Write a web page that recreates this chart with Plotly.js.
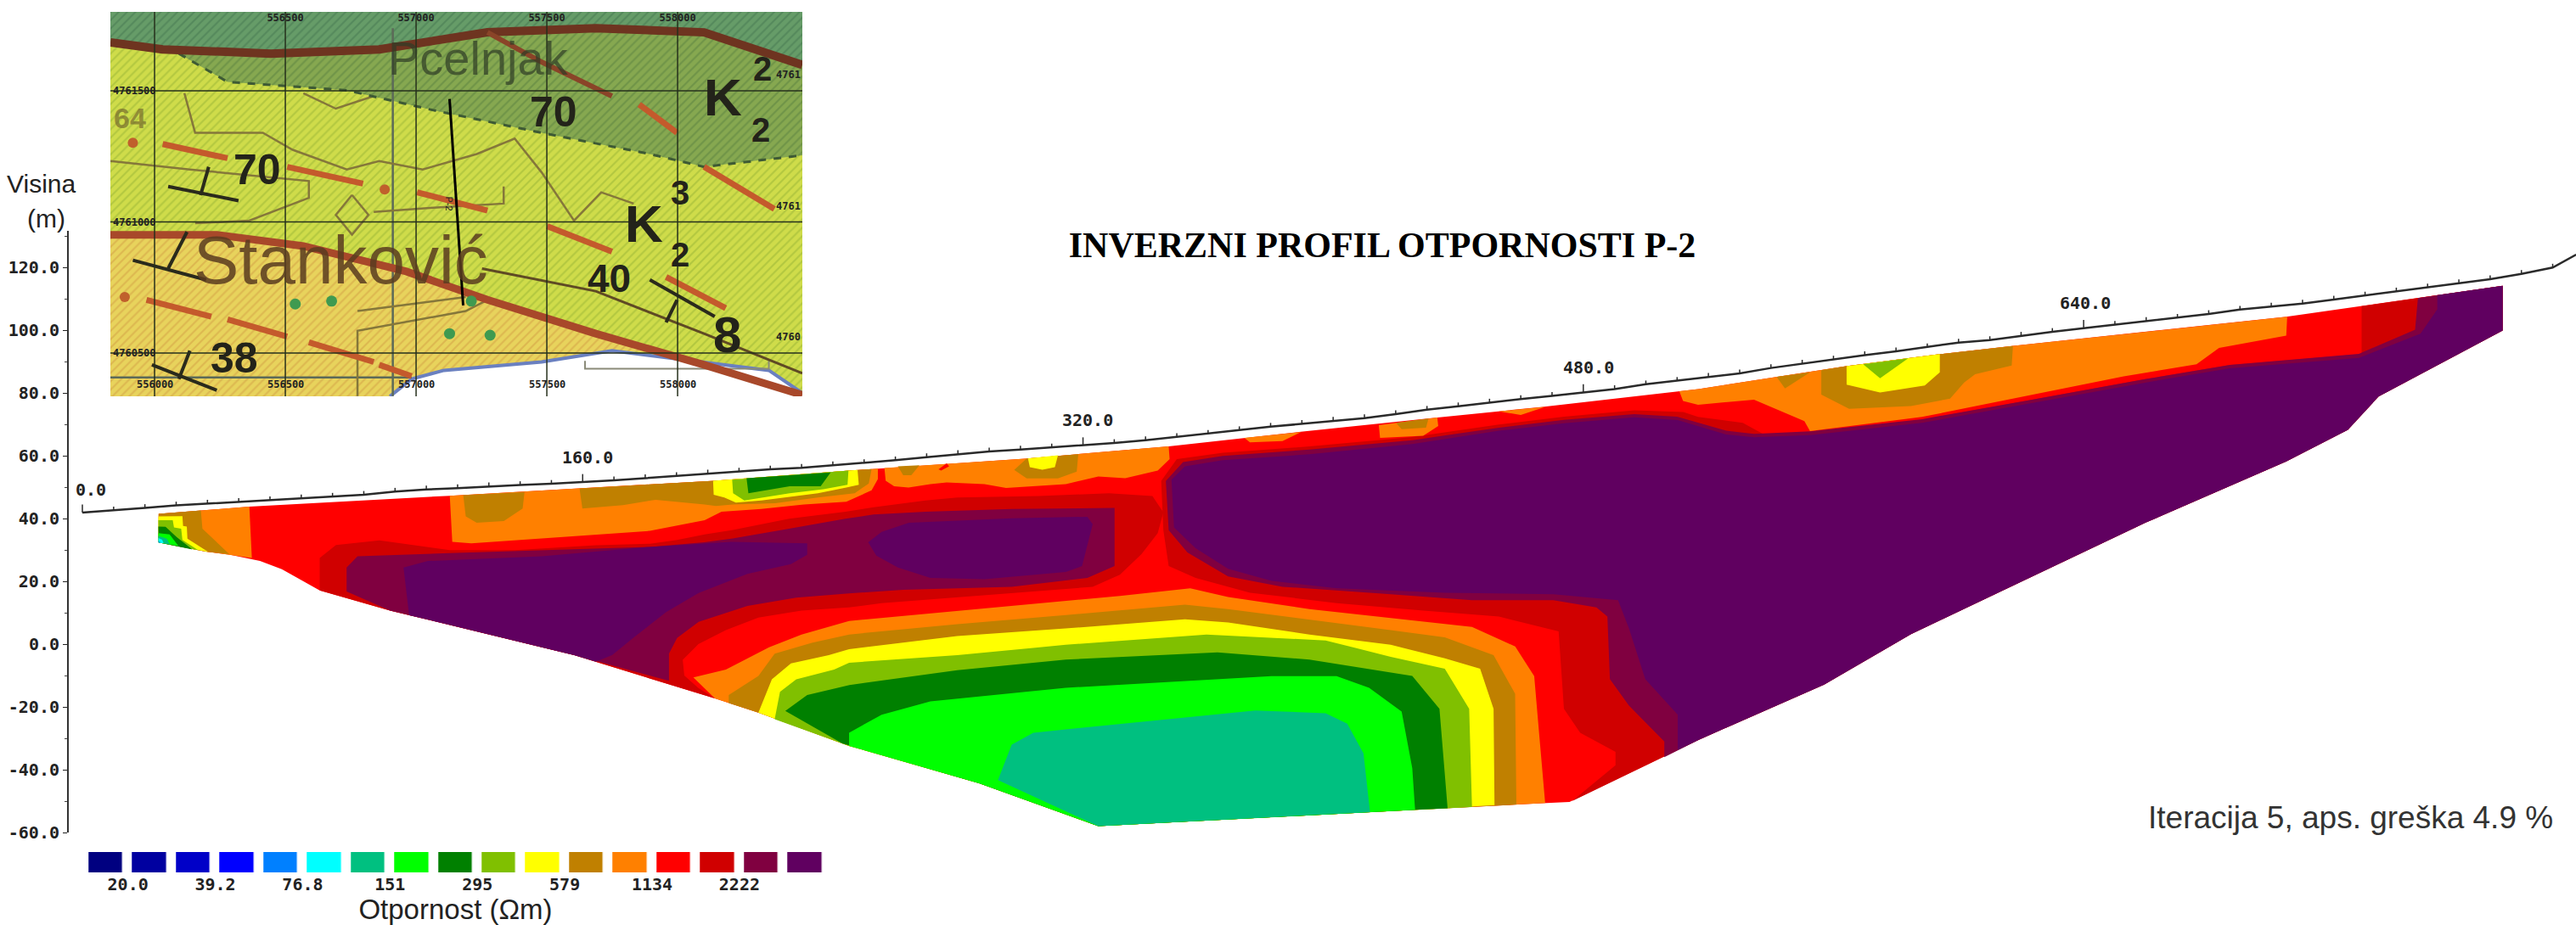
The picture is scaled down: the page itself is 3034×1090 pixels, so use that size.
<!DOCTYPE html>
<html><head><meta charset="utf-8">
<script src="https://cdn.plot.ly/plotly-3.0.1.min.js"></script>
<style>html,body{margin:0;padding:0;background:#fff}</style></head>
<body><div id="chart" style="width:3034px;height:1090px"></div>
<script>
// ---------- resistivity key ----------
const keyColors = ['#000080','#0000a0','#0000c8','#0000ff','#0080ff','#00ffff','#00c080','#00ff00','#008000','#80c000','#ffff00','#c08000','#ff8000','#ff0000','#d00000','#800040','#600060'];
const keyLabels = ['20.0','39.2','76.8','151','295','579','1134','2222'];
const keyTickAt = [0.5,2.5,4.5,6.5,8.5,10.5,12.5,14.5];
// ---------- elevation axis ----------
const elevTicks = [120,100,80,60,40,20,0,-20,-40,-60];
const elevLabels = ['120.0','100.0','80.0','60.0','40.0','20.0','0.0','-20.0','-40.0','-60.0'];
// ---------- ground surface: one elevation every 10 m of distance ----------
const surfaceElev = [41.9,42.6,43.4,44.2,44.8,45.3,45.9,46.5,47,47.6,48.6,49.3,49.7,50.3,50.7,51.1,51.6,52.2,52.9,53.6,54.4,55,55.7,56.2,57,57.7,58.6,59.6,60.6,61.4,62,62.7,63.3,64.1,65,66,67,68.2,69.3,70.2,71.2,72,73.3,74.7,75.8,77,78.1,79.1,80.2,81.3,82.8,83.9,85.2,86.3,88,89.4,90.7,92.1,93.3,94.6,96.1,96.9,98.3,99.5,100.7,101.8,103,104,105.2,106.6,107.6,108.5,109.8,111.1,112.4,113.7,115,116.3,118,120];
const surfaceEnd = [797.5,124.1];
const distanceLabels = [[2.8,49.3,'0.0'],[161.6,59.5,'160.0'],[321.6,71.4,'320.0'],[481.6,88.3,'480.0'],[640.6,108.6,'640.0']];
// ---------- section outline [distance m, elevation m] ----------
const sectionTop = [[24.4,41.5],[53.4,43.8],[117.5,47.3],[202.3,52.1],[245.3,55.3],[302.4,59.2],[347.4,63],[389,67.6],[432,72.1],[466.9,75.6],[516.8,81.3],[564,88.6],[594,92.4],[617,95],[704.8,104.3],[746.9,110.3],[774,114.2]];
const sectionBottom = [[774,99.9],[734.3,78.9],[724.5,68.3],[704.8,58.2],[660,38.8],[613.4,16.8],[584.8,3.2],[557,-12.9],[516.8,-30.5],[475.6,-50.3],[466.9,-50.7],[426.2,-52.8],[324.9,-58],[286.8,-44.3],[245.2,-32.4],[216.2,-21.8],[202.3,-17.3],[157.3,-3.5],[115.7,6.6],[98.4,10.7],[75.9,17.1],[63.8,23.9],[56.8,26.5],[47.3,28.5],[39.5,29.5],[24.4,32.4]];
const rightEdge = [[774,114.2],[774,99.9],[734.3,78.9],[724.5,68.3],[704.8,58.2],[660,38.8],[613.4,16.8],[584.8,3.2],[557,-12.9],[516.8,-30.5]];
// ---------- high-resistivity bodies ----------
const darkRedLeft = [[75.9,17.1],[75.9,27.5],[81.1,31.6],[95,33.1],[117.5,30],[138.2,30],[164.2,31.5],[181.5,32],[190.2,33.2],[199,35],[208,36.4],[226,40],[244,42.2],[253,43.6],[269.6,45.8],[279.8,46.7],[305.8,47.2],[328.3,48.1],[342.2,47.2],[345.7,42],[343.9,35.4],[338.7,28.7],[331.8,22.1],[323.1,18.3],[305.8,16.9],[279.8,15],[255.6,13.1],[245.2,11.7],[230,10.7],[216.2,8.5],[205.8,4.5],[197,0],[192,-5],[192.5,-10],[197,-14],[202.3,-17.3],[157.3,-3.5],[115.7,6.6],[98.4,10.7]];
const darkPurpleLeft = [[98.4,10.7],[84.5,16.8],[84.5,24.4],[88,28],[117.5,29],[146.9,30],[181.5,31],[198.9,32.5],[208,33.7],[226,36.8],[244,40],[253,41.3],[269.6,42.2],[297.2,43.1],[330.1,43.4],[330.1,24.9],[321.4,21.1],[297.2,18.3],[262.5,17.3],[245.2,16.2],[228.3,14.8],[212.7,12.2],[197.1,7.1],[190.2,2],[187.6,-3],[187.6,-11.7],[157.3,-3.5],[115.7,6.6]];
const purpleLeft = [[104.5,9.2],[102.7,24.4],[110.5,26.5],[146.9,28],[181.5,31],[207.5,32.6],[231.8,32.1],[231.8,28.5],[226.6,25.5],[212.7,22.4],[197.1,16.3],[186.7,10.2],[176.3,2.1],[169.4,-3.5],[164.2,-5.6],[157.3,-3.5],[115.7,6.6]];
const purpleMiddle = [[251.3,32.5],[255.6,35.8],[264.3,38.7],[297.2,40.1],[321.4,40.6],[323.1,38.2],[319.7,24.9],[314.5,23],[288.5,20.7],[271.2,21.1],[260.8,24.4],[253.9,28.2]];
const darkRedRight = [[345.7,36.3],[345,52],[350,59],[364.7,61],[392.4,63],[425.3,66],[453,70],[473.8,72.5],[496.3,74.5],[512,74],[516.7,72.4],[531,70.5],[538.2,66.6],[552.5,67.5],[588.3,71.5],[624.2,78],[660,84.5],[686.8,89],[728.9,92.4],[728.9,107.7],[746.9,110.3],...rightEdge,[476.4,-50],[490.3,-38.6],[490.3,-34.3],[479,-28.2],[473.8,-20.6],[472.1,4.1],[453,8.8],[428.8,10.7],[401.1,13.1],[373.4,16.4],[356,21.1],[347.4,24.9]];
const darkPurpleRight = [[347.4,36.3],[346.5,52],[352,58],[364.7,60],[392.4,62],[425.3,65],[453,69],[473.8,71.5],[496.3,73.3],[510,72.5],[525.7,68],[534.6,67],[552.5,67.8],[588.3,71.7],[624.2,78],[660,84.5],[686.8,89],[728,92.5],[746,100.2],[746.9,110.3],...rightEdge,[505.9,-36],[505.9,-31],[494.6,-19.6],[488.5,-11.1],[487.7,8.8],[484.2,11.7],[470.4,14],[444.4,14],[418.4,15.9],[383.8,18.3],[366.4,21.6],[353.4,29.2]];
const purpleRight = [[348.3,52.4],[352.6,56.7],[364.7,58.6],[392.4,60.5],[425.3,63.8],[453,68],[473.8,70.4],[496.3,72.3],[510.2,71.4],[525.7,66.8],[534.6,65.9],[552.5,66.6],[588.3,70.5],[624.2,76.9],[660,83.4],[686.8,87.9],[728,91.2],[747.7,98.9],[753.1,106.7],[753.1,111.2],[774,114.2],...rightEdge.slice(1),[510.2,-33.7],[510.2,-22.5],[499.8,-11.1],[494.6,5],[491.1,14],[470.4,15.9],[435.7,16.4],[401.1,17.8],[380.3,20.2],[366.4,24],[356,30.6],[349.1,37.2]];
// ---------- low-resistivity basin ----------
const basinFloor = [[426.2,-52.8],[324.9,-58],[286.8,-44.3],[245.2,-32.4]];
const orangeBasin = [[195.4,-10.6],[205.8,-8.1],[219.6,-1],[230,3.1],[245.2,7.4],[271.2,9.8],[305.8,13.1],[331.8,15.4],[354.3,17.8],[366.4,15],[392.4,11.2],[418.4,8.3],[444.4,5.5],[458.2,-0.7],[464.3,-10.2],[466,-30],[467.8,-50.6],...basinFloor,[216.2,-21.8],[202.3,-17.3]];
const brownBasin = [[206.7,-16.2],[216.2,-10.1],[221.4,-3],[233.5,0.5],[245.2,3.1],[279.8,6.4],[314.5,9.3],[352.6,12.6],[366.4,11.2],[392.4,7.9],[418.4,4.5],[435.7,2.2],[451.3,-3.5],[458.2,-15.8],[458.6,-51.1],...basinFloor,[216.2,-21.8],[206.7,-18.8]];
const yellowBasin = [[216.2,-21.8],[220.5,-11.2],[226.6,-6.1],[238.7,-3.5],[245.2,-1.6],[279.8,2.6],[314.5,5],[352.6,7.9],[366.4,6.9],[392.4,3.1],[418.4,-0.2],[435.7,-4.5],[447,-7.8],[451.3,-20.6],[451.6,-51.3],...basinFloor];
const yellowGreenBasin = [[221.4,-23.9],[223.1,-15.2],[228.3,-11.2],[240.4,-8.1],[245.2,-5.9],[279.8,-3.5],[314.5,-0.2],[359.5,3.1],[397.6,1.2],[418.4,-4],[435.7,-7.8],[443.5,-20.6],[444.4,-51.9],...basinFloor];
const greenBasin = [[224.8,-21.3],[231.8,-16.2],[245.3,-13],[279.8,-8.3],[314.5,-4.9],[363,-2.6],[392.4,-4.9],[425.3,-10.1],[434,-20.6],[436.6,-52.3],...basinFloor,[243,-31.6]];
const limeBasin = [[245.2,-28.2],[255.6,-22.5],[271.2,-18.2],[314.5,-13.9],[380.3,-10.2],[401.1,-10.2],[411.5,-13.9],[421.9,-21.5],[425.3,-39.5],...basinFloor];
const tealBasin = [[292.8,-43.3],[297.2,-32],[304.1,-28.2],[375.1,-21.1],[397.6,-22],[404.5,-25.3],[409.7,-34.8],[411.8,-53.5],[324.9,-58]];
// ---------- shallow low-resistivity lenses ----------
const orangeLeftEnd = [[24.4,41.5],[53.4,43.8],[54.2,27.5],[47.3,28.5],[39.5,29.5],[24.4,32.4]];
const brownLeftEnd = [[24.4,41.5],[37.9,42.6],[38.4,36.8],[47,28.7],[39.5,29.5],[24.4,32.4]];
const yellowLeftEnd = [[24.3,40.7],[32,40.8],[32.2,37.7],[33.4,37.5],[33.6,33.6],[40.2,29.4],[24.4,32.4]];
const yellowGreenLeftEnd = [[24.3,39.5],[28.9,39.5],[29.3,37.2],[31.6,36.8],[32,33.2],[37,30],[24.4,32.4]];
const greenLeftEnd = [[24.3,37.5],[26.6,37.4],[30.2,34.1],[35.2,30.2],[24.4,32.4]];
const limeLeftEnd = [[24.3,35.4],[27.9,35],[30.7,31.3],[24.4,32.4]];
const tealLeftEnd = [[24.3,34.5],[27,33.6],[28,31.8],[24.4,32.4]];
const cyanLeftEnd = [[24.3,33.8],[25.5,33.3],[26,32.1],[24.4,32.4]];
const blueLeftEnd = [[24.3,32.8],[25.2,32.5],[24.4,32.4]];
const orangeShallowA = [[117.5,47.3],[118.3,32.6],[124.4,32.1],[146.9,33.6],[181.5,36.1],[199,39.5],[204.4,42.2],[217.1,43.1],[230.7,44.5],[244.3,45.4],[252.4,49],[254.4,52.6],[254.4,55.9],[245.3,55.3],[202.3,52.1]];
const orangeShallowB = [[256.5,56.1],[256.9,52.1],[259.6,50.3],[264.2,49.9],[271.2,51],[276.4,51.5],[288.5,51],[295.4,49.8],[314.5,51],[324.9,53.4],[333.5,52.9],[343.9,55.3],[347.7,59],[347.4,63],[302.4,59.2]];
const redSpot = [[273.8,55.7],[276.4,57.6],[277.2,56.7],[274.6,55.3]];
const brownSpotA = [[121.8,47.5],[122.6,40.7],[126.1,38.7],[134.8,39.2],[140.8,43.2],[141.4,48.4]];
const brownSpotB = [[159,49.6],[159.9,43.2],[172.9,44.3],[183.3,46],[199,44.5],[202.6,44],[208,44.5],[221.6,44.9],[235.2,46.7],[247,48.1],[251.5,51.2],[252.4,55.8],[245.3,55.3],[202.3,52.1]];
const brownSpotC = [[260.8,56.7],[267.7,57],[265.1,53.8],[262.5,53.8]];
const yellowLens = [[201.7,52.1],[201.9,47.6],[205.3,46.7],[209,45.1],[217.1,45.8],[235.2,48.1],[244.3,49.9],[248.3,50.8],[247.9,55.5],[245.3,55.3]];
const yellowGreenLens = [[207.8,52.4],[208.1,48.1],[211.7,45.8],[226.2,48.1],[237,49.4],[244.7,50.8],[245,55.3]];
const greenLens = [[212.4,52.9],[213,48.1],[226.2,50.3],[236.1,50.3],[239.3,54.7]];
const brownSpotD = [[302,59.2],[298,55.5],[302,52.8],[312,52.8],[318,55],[318.5,60.5]];
const yellowSpotD = [[302.4,59.2],[303,56.4],[307,55.6],[311,56.4],[312,60.2]];
const orangeSpotE = [[371.6,65.7],[373.4,64.3],[383.8,64.7],[389.8,67.6]];
const orangeSpotF = [[414.6,69.8],[415,65.7],[428.8,66.4],[433.6,69.5],[433.3,72.2]];
const brownSpotF = [[420.1,70.5],[421.9,68.5],[429.7,69],[430.5,71.9]];
const orangeSpotG = [[453,74.2],[460,73],[467.8,75.6]];
const orangeShallowC = [[510.7,80.6],[511.9,77.5],[516.7,76.3],[534.6,77.9],[550.7,71.1],[552.5,67.9],[588.3,72.4],[624.2,79.5],[652.8,85.3],[676.1,89.2],[683.3,94.4],[704.8,98.3],[705.1,104.3],[617,95],[594,92.4],[564,88.6],[516.8,81.3]];
const brownSliver = [[541.8,85.2],[544.5,81.5],[552.5,86.6]];
const brownLens = [[556.1,87.3],[556.1,79.5],[565,75],[584.8,75.9],[597.3,78.2],[601.8,83.4],[605.3,86],[617,88.8],[617.4,95],[594,92.4],[564,88.6]];
const yellowLensRight = [[564.2,88.6],[564.2,82.7],[574.9,80.2],[589.2,82.4],[594,86.6],[594,92.4]];
const yellowGreenLensRight = [[569.5,89.2],[574.9,84.7],[583.9,91.1]];

// ---------- location map: metres from the grid origin ----------
const mapE0 = 556000, mapN0 = 4761000;
const gridE = [556000,556500,557000,557500,558000];
const gridN = [4760500,4761000,4761500];
const mapFrame = [[-169,801],[2477,801],[2477,-665],[-169,-665]];
const mapTopZone = [[-169,801],[2477,801],[2477,599],[2101,723],[1687,739],[1273,723],[859,658],[445,642],[31,658],[-169,685]];
const mapOliveZone = [[93,642],[279,534],[735,502],[1066,426],[1480,340],[1894,259],[2101,210],[2477,254],[2477,599],[2101,723],[1687,739],[1273,723],[859,658],[445,642]];
const mapYellowZone = [[-169,-49],[238,-49],[569,-92],[963,-189],[1273,-297],[1687,-426],[2101,-545],[1894,-496],[1749,-491],[1480,-534],[1107,-566],[983,-599],[900,-665],[-169,-665]];
const mapSea = [[900,-665],[983,-599],[1107,-566],[1480,-534],[1749,-491],[1998,-523],[2349,-566],[2477,-653],[2477,-665]];
const mapCoast = [[900,-665],[983,-599],[1107,-566],[1480,-534],[1749,-491],[1998,-523],[2349,-566],[2477,-653]];
const mapScaleBar = [[1646,-530],[1646,-560],[2349,-560],[2349,-530]];
const mapRoadTop = [[-169,685],[31,658],[445,642],[859,658],[1273,723],[1687,739],[2101,723],[2477,599]];
const mapFaultBrown = [[1273,723],[1480,610],[1749,480]];
const mapRoadLow = [[-169,-49],[238,-49],[569,-92],[963,-189],[1273,-297],[1687,-426],[2101,-545],[2477,-660]];
const mapContourLow = [[1252,-178],[1687,-264],[2101,-426],[2477,-577]];
const mapDashGreen = [[93,642],[279,534],[735,502],[1066,426],[1480,340],[1894,259],[2101,210],[2477,254]];
const mapRedDashes = [[31,297],[279,243],null,[507,210],[797,146],null,[1004,113],[1273,43],null,[1501,-16],[1749,-113],null,[1956,-210],[2184,-329],null,[-31,-297],[217,-361],null,[279,-372],[507,-437],null,[590,-459],[838,-534],null,[859,-545],[983,-588],null,[1853,448],[1998,340],null,[2101,210],[2370,49]];
const mapContours = [[114,491],[155,340],[414,340],[528,275],[735,200],[859,232],[1025,200],[1232,259],[1377,318],[1480,189],[1604,5],[1708,113],[1832,70],null,[-169,232],[135,200],[590,156],[590,92],[362,5],[155,-5],null,[569,491],[693,432],[838,480],null,[755,103],[818,27],[755,-49],[693,27],[755,103],null,[838,38],[1066,54],[1335,70],[1335,135],null,[776,-340],[1190,-286],null,[776,-664],[776,-415],[1190,-340],[1273,-297]];
const mapGreyLines = [[911,739],[911,-664],null,[-169,-593],[983,-593]];
const mapDipSymbols = [[52,135],[321,81],null,[207,210],[176,102],null,[-83,-146],[197,-221],null,[124,-38],[52,-178],null,[-10,-545],[238,-642],null,[135,-491],[93,-599],null,[1894,-221],[2142,-361],null,[1998,-297],[1956,-383]];
const mapGreenDots = [[538,-313],[677,-302],[1128,-426],[1283,-432],[1211,-302]];
const mapRedDots = [[-83,302],[880,124],[-114,-286]];
const profileLine = [[1128,469],[1180,-318]];
const mapTexts = [['K',2174,475,62],['2',2325,583,40],['2',2318,351,40],['K',1873,-5,62],['3',2008,113,40],['2',2008,-124,40],['70',1526,420,50],['70',393,200,50],['40',1739,-216,46],['38',304,-518,50],['8',2190,-430,60]];

const mono = 'DejaVu Sans Mono', sans = 'Liberation Sans';
const firstOf = p => p ? p[0] : null, secondOf = p => p ? p[1] : null;

function poly(name, color, pts){
  return {type:'scatter',mode:'lines',name,x:pts.map(firstOf),y:pts.map(secondOf),fill:'toself',fillcolor:color,
    line:{width:0,color},hoverinfo:'skip'};
}
const C = {navy:keyColors[3],azure:keyColors[4],cyan:keyColors[5],teal:keyColors[6],lime:keyColors[7],green:keyColors[8],yg:keyColors[9],yellow:keyColors[10],brown:keyColors[11],orange:keyColors[12],red:keyColors[13],dred:keyColors[14],dpurple:keyColors[15],purple:keyColors[16]};
const section = [...sectionTop, ...sectionBottom];
const layers = [
 ['section',C.red,section],
 ['dark red left',C.dred,darkRedLeft],['dark purple left',C.dpurple,darkPurpleLeft],['purple left',C.purple,purpleLeft],['purple middle',C.purple,purpleMiddle],
 ['dark red right',C.dred,darkRedRight],['dark purple right',C.dpurple,darkPurpleRight],['purple right',C.purple,purpleRight],
 ['orange basin',C.orange,orangeBasin],['brown basin',C.brown,brownBasin],['yellow basin',C.yellow,yellowBasin],['yellow-green basin',C.yg,yellowGreenBasin],['green basin',C.green,greenBasin],['lime basin',C.lime,limeBasin],['teal basin',C.teal,tealBasin],
 ['orange end',C.orange,orangeLeftEnd],['brown end',C.brown,brownLeftEnd],['yellow end',C.yellow,yellowLeftEnd],['yg end',C.yg,yellowGreenLeftEnd],['green end',C.green,greenLeftEnd],['lime end',C.lime,limeLeftEnd],['teal end',C.teal,tealLeftEnd],['cyan end',C.cyan,cyanLeftEnd],['blue end',C.azure,blueLeftEnd],
 ['orange shallow A',C.orange,orangeShallowA],['orange shallow B',C.orange,orangeShallowB],['red spot',C.red,redSpot],['brown A',C.brown,brownSpotA],['brown B',C.brown,brownSpotB],['brown C',C.brown,brownSpotC],
 ['yellow lens',C.yellow,yellowLens],['yg lens',C.yg,yellowGreenLens],['green lens',C.green,greenLens],
 ['brown D',C.brown,brownSpotD],['yellow D',C.yellow,yellowSpotD],['orange E',C.orange,orangeSpotE],['orange F',C.orange,orangeSpotF],['brown F',C.brown,brownSpotF],['orange G',C.orange,orangeSpotG],
 ['orange shallow C',C.orange,orangeShallowC],['brown sliver',C.brown,brownSliver],['brown lens',C.brown,brownLens],['yellow lens right',C.yellow,yellowLensRight],['yg lens right',C.yg,yellowGreenLensRight]
];
const traces = layers.map(l => poly(l[0],l[1],l[2]));

// ground surface with its 10 m tick marks
const surfaceD = surfaceElev.map((_,i)=>i*10);
traces.push({type:'scatter',mode:'lines',name:'surface',x:[...surfaceD,surfaceEnd[0]],y:[...surfaceElev,surfaceEnd[1]],
  line:{color:'#2a2a2a',width:2.5},hoverinfo:'skip',
  error_y:{type:'data',symmetric:false,array:[...surfaceD.map(d=>(d%160===0)?2.6:1.2),0],arrayminus:[...surfaceD.map(()=>0),0],width:0,thickness:1.5,color:'#2a2a2a'}});

// colour key as a gapped heatmap
traces.push({type:'heatmap',xaxis:'x2',yaxis:'y2',z:[keyColors.map((_,i)=>i)],x:keyColors.map((_,i)=>i),y:[0],
  zmin:0,zmax:keyColors.length-1,showscale:false,xgap:11.6,hoverinfo:'skip',
  colorscale:keyColors.flatMap((c,i)=>[[i/keyColors.length,c],[(i+1)/keyColors.length,c]])});

// location map
function mapTrace(o,pts){
  return Object.assign({type:'scatter',xaxis:'x3',yaxis:'y3',hoverinfo:'skip',
    x:pts.map(p=>p?p[0]+mapE0:null),y:pts.map(p=>p?p[1]+mapN0:null)},o);
}
function mapFill(name,bg,fg,pts){
  return mapTrace({name,mode:'lines',fill:'toself',fillcolor:bg,line:{width:0,color:bg},
    fillpattern:{shape:'/',size:7,solidity:0.3,fgcolor:fg,bgcolor:bg}},pts);
}
function mapLine(name,color,width,pts,dash){
  return mapTrace({name,mode:'lines',line:{color,width,dash:dash||'solid'}},pts);
}
traces.push(
  mapFill('map ground','#cfdc4a','#b3c840',mapFrame),
  mapFill('map top zone','#669c68','#55895c',mapTopZone),
  mapFill('map olive zone','#86a850','#6f9448',mapOliveZone),
  mapFill('map yellow zone','#e8d35c','#ddb850',mapYellowZone),
  mapTrace({name:'map sea',mode:'lines',fill:'toself',fillcolor:'#ffffff',line:{width:0,color:'#fff'}},mapSea),
  mapLine('map coast','#6a80c0',4,mapCoast),
  mapLine('map scale bar','#8a8a78',2,mapScaleBar),
  mapLine('map grey','#5c6a58',2.5,mapGreyLines),
  mapLine('map contours','#85773a',2.5,mapContours),
  mapLine('map contour low','#5f4a24',3,mapContourLow),
  mapLine('map dashed','#3e5a34',3,mapDashGreen,'dash'),
  mapLine('map road top','#6e3420',10,mapRoadTop),
  mapLine('map fault brown','#8a4428',6,mapFaultBrown),
  mapLine('map road low','#a8482a',9,mapRoadLow),
  mapLine('map red dashes','#c45a2c',7,mapRedDashes),
  mapLine('map dips','#2a2a1c',4,mapDipSymbols),
  mapTrace({name:'map green dots',mode:'markers',marker:{color:'#3f9a50',size:13}},mapGreenDots),
  mapTrace({name:'map red dots',mode:'markers',marker:{color:'#c0602c',size:12}},mapRedDots)
);
gridE.forEach(e=>traces.push(mapLine('grid E','#26301c',1.5,[[e-mapE0,801],[e-mapE0,-665]])));
gridN.forEach(n=>traces.push(mapLine('grid N','#26301c',1.5,[[-169,n-mapN0],[2477,n-mapN0]])));
traces.push(mapLine('profile P-2','#000000',3,profileLine));

// annotations
const annotations = [];
distanceLabels.forEach(l=>annotations.push({x:l[0],y:l[1],xref:'x',yref:'y',text:l[2],showarrow:false,xanchor:'center',yanchor:'middle',font:{family:mono,size:20,weight:'bold',color:'#222'}}));
annotations.push(
  {xref:'paper',yref:'paper',x:48/3034,y:1-216/1090,xanchor:'center',yanchor:'middle',text:'Visina',showarrow:false,font:{family:sans,size:30,color:'#222'}},
  {xref:'paper',yref:'paper',x:54/3034,y:1-257/1090,xanchor:'center',yanchor:'middle',text:'(m)',showarrow:false,font:{family:sans,size:30,color:'#222'}},
  {xref:'paper',yref:'paper',x:3009/3034,y:1-963/1090,xanchor:'right',yanchor:'middle',text:'Iteracija 5, aps. greška 4.9 %',showarrow:false,font:{family:sans,size:37,color:'#333'}}
);
mapTexts.forEach(t=>annotations.push({xref:'x3',yref:'y3',x:t[1]+mapE0,y:t[2]+mapN0,text:t[0],showarrow:false,xanchor:'center',yanchor:'middle',font:{family:sans,size:t[3],weight:'bold',color:'#23231a'}}));
annotations.push(
  {xref:'x3',yref:'y3',x:714+mapE0,y:-146+mapN0,text:'Stanković',showarrow:false,xanchor:'center',yanchor:'middle',opacity:0.85,font:{family:sans,size:80,color:'#5a3c20'}},
  {xref:'x3',yref:'y3',x:1240+mapE0,y:625+mapN0,text:'Pcelnjak',showarrow:false,xanchor:'center',yanchor:'middle',opacity:0.7,font:{family:sans,size:56,color:'#2f3c26'}},
  {xref:'x3',yref:'y3',x:-93+mapE0,y:395+mapN0,text:'64',showarrow:false,xanchor:'center',yanchor:'middle',opacity:0.6,font:{family:sans,size:34,weight:'bold',color:'#6a5a2a'}},
  {xref:'x3',yref:'y3',x:1128+mapE0,y:70+mapN0,text:'P-2',textangle:90,showarrow:false,xanchor:'center',yanchor:'middle',font:{family:sans,size:11,color:'#222'}}
);
gridE.forEach(e=>annotations.push({xref:'x3',yref:'y3',x:e,y:mapN0-620,text:String(e),showarrow:false,xanchor:'center',yanchor:'middle',font:{family:mono,size:12,weight:'bold',color:'#222'}}));
gridN.forEach(n=>annotations.push({xref:'paper',yref:'y3',x:945/3034,xanchor:'right',yanchor:'middle',y:n+60,text:String(n).slice(0,4),showarrow:false,font:{family:mono,size:12,weight:'bold',color:'#222'}}));

const W=3034,H=1090;
const layout = {
  width:W,height:H,autosize:false,margin:{l:0,r:0,t:0,b:0},paper_bgcolor:'#fff',plot_bgcolor:'rgba(0,0,0,0)',showlegend:false,hovermode:false,
  title:{text:'INVERZNI PROFIL OTPORNOSTI P-2',x:1628/W,xanchor:'center',y:1-288/H,yanchor:'middle',font:{family:'Liberation Serif',size:42,weight:'bold',color:'#000'}},
  annotations,
  xaxis:{domain:[0,1],range:[-26.34,797.46],visible:false,fixedrange:true},
  yaxis:{domain:[1-981/H,1-272/H],range:[-60,131.7],anchor:'free',position:80/W,tickmode:'array',tickvals:elevTicks,ticktext:elevLabels,
    ticks:'outside',ticklen:5,tickcolor:'#222',showline:true,linecolor:'#333',linewidth:2,showgrid:false,zeroline:false,
    tickfont:{family:mono,size:20,weight:'bold',color:'#222'},
    minor:{dtick:10,ticklen:3,ticks:'outside',tickcolor:'#444',showgrid:false}},
  xaxis2:{domain:[99.2/W,973.8/W],range:[-0.5,16.5],anchor:'y2',tickmode:'array',tickvals:keyTickAt,ticktext:keyLabels,side:'bottom',ticks:'',showline:false,showgrid:false,zeroline:false,
    tickfont:{family:mono,size:20,weight:'bold',color:'#222'},
    title:{text:'Otpornost (Ωm)',standoff:12,font:{family:sans,size:33,color:'#222'}}},
  yaxis2:{domain:[1-1028/H,1-1004/H],range:[-0.5,0.5],anchor:'x2',visible:false},
  xaxis3:{domain:[130/W,945/W],range:[555831,558477],anchor:'y3',side:'top',tickmode:'array',tickvals:gridE,tickformat:'d',ticklabelposition:'inside',ticks:'',showgrid:false,zeroline:false,showline:false,
    tickfont:{family:mono,size:12,weight:'bold',color:'#222'}},
  yaxis3:{domain:[1-467/H,1-14/H],range:[4760335,4761801],anchor:'x3',side:'left',tickmode:'array',tickvals:gridN,tickformat:'d',ticklabelposition:'inside',ticks:'',showgrid:false,zeroline:false,showline:false,
    tickfont:{family:mono,size:12,weight:'bold',color:'#222'}}
};
Plotly.newPlot('chart',traces,layout,{staticPlot:true,displayModeBar:false});
</script></body></html>
